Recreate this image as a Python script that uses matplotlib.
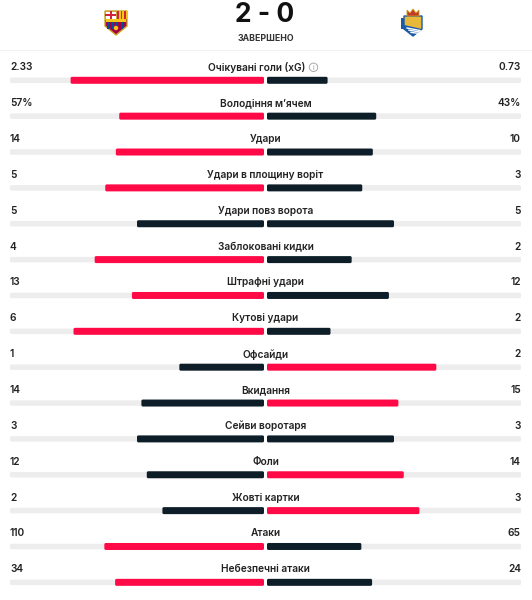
import numpy as np
import matplotlib.pyplot as plt
from matplotlib.patches import FancyBboxPatch, Polygon, Rectangle, Circle

labels = ['Очікувані голи (xG)', 'Володіння м’ячем', 'Удари', 'Удари в площину воріт',
          'Удари повз ворота', 'Заблоковані кидки', 'Штрафні удари', 'Кутові удари',
          'Офсайди', 'Вкидання', 'Сейви воротаря', 'Фоли', 'Жовті картки', 'Атаки',
          'Небезпечні атаки']
home = [2.33, 57, 14, 5, 5, 4, 13, 6, 1, 14, 3, 12, 2, 110, 34]
away = [0.73, 43, 10, 3, 5, 2, 12, 2, 2, 15, 3, 14, 3, 65, 24]
home_txt = ['2.33', '57%', '14', '5', '5', '4', '13', '6', '1', '14', '3', '12', '2', '110', '34']
away_txt = ['0.73', '43%', '10', '3', '5', '2', '12', '2', '2', '15', '3', '14', '3', '65', '24']
score = '2 - 0'
status = 'ЗАВЕРШЕНО'

RED, DARK, TRACK, TXT = '#ff0a47', '#0e1e28', '#ededed', '#222222'
plt.rcParams['font.family'] = ['Inter', 'DejaVu Sans']

fig = plt.figure(figsize=(5.32, 6.0), dpi=100)
ax = fig.add_axes([0, 0, 1, 1])
ax.set_xlim(0, 532); ax.set_ylim(600, 0); ax.axis('off')


def bar(x0, x1, y, h, color):
    if x1 - x0 <= 0:
        return
    ax.add_patch(FancyBboxPatch((x0, y - h / 2), x1 - x0, h,
                                boxstyle='round,pad=0,rounding_size=1.5',
                                fc=color, ec='none', mutation_aspect=1))


# header
ax.text(265, 15, score, ha='center', va='center', fontsize=19, fontweight='bold', color='#111111')
ax.text(266, 38.5, status, ha='center', va='center', fontsize=6.3, fontweight='bold', color='#333333')
ax.plot([0, 532], [50, 50], color='#f2f2f2', lw=0.8)

# barca crest (rough)
bx, by = 116, 22
ax.add_patch(Polygon([(bx - 11, by - 11), (bx + 11, by - 11), (bx + 11, by + 4),
                      (bx, by + 13), (bx - 11, by + 4)], fc='#a50044', ec='#c9a227', lw=1))
for k in range(4):
    ax.add_patch(Rectangle((bx - 9 + k * 4.5, by - 1), 2.3, 8, fc='#004d98', ec='none'))
ax.add_patch(Rectangle((bx - 11, by - 11), 11, 8, fc='white', ec='#c9a227', lw=0.6))
ax.add_patch(Rectangle((bx - 6.5, by - 11), 2, 8, fc='#d4213d', ec='none'))
ax.add_patch(Rectangle((bx - 11, by - 8), 11, 2, fc='#d4213d', ec='none'))
for k in range(3):
    ax.add_patch(Rectangle((bx + 1 + k * 3.5, by - 11), 1.8, 8, fc='#d4213d', ec='none'))
    ax.add_patch(Rectangle((bx + 2.8 + k * 3.5, by - 11), 1.7, 8, fc='#f5c518', ec='none'))
ax.add_patch(Rectangle((bx - 10, by - 3), 20, 2.5, fc='#f5c518', ec='none'))
ax.add_patch(Circle((bx, by + 6), 2.2, fc='#f5c518', ec='none'))

# real sociedad crest (rough)
rx, ry = 413, 23
ax.add_patch(Polygon([(rx - 9, ry - 7), (rx + 9, ry - 7), (rx + 9, ry + 6),
                      (rx, ry + 13), (rx - 9, ry + 6)], fc='#e8b83a', ec='#1a5aa8', lw=1))
ax.add_patch(Polygon([(rx - 9, ry + 2), (rx + 9, ry + 6), (rx, ry + 13), (rx - 9, ry + 6)],
                     fc='#1a5aa8', ec='none'))
for k in range(3):
    ax.plot([rx - 6 + k * 2, rx + 7], [ry + 5 + k * 2.2, ry + 7.5 + k * 1.5], color='white', lw=1)
ax.add_patch(Polygon([(rx - 6, ry - 7), (rx - 6, ry - 13), (rx - 3, ry - 10), (rx, ry - 14),
                      (rx + 3, ry - 10), (rx + 6, ry - 13), (rx + 6, ry - 7)],
                     fc='#c0392b', ec='#d4a017', lw=0.6))
ax.add_patch(Rectangle((rx - 12, ry - 5), 3, 11, fc='#1a5aa8', ec='none'))

# stat rows
c = 265.5
half = 254
top = 67.3
step = 35.86
for i, lab in enumerate(labels):
    yt = top + i * step
    yb = yt + 13
    ax.text(10, yt, home_txt[i], ha='left', va='center', fontsize=7.3, fontweight='semibold', color=TXT)
    ax.text(521, yt, away_txt[i], ha='right', va='center', fontsize=7.3, fontweight='semibold', color=TXT)
    if i == 0:
        ax.text(c - 9, yt, lab, ha='center', va='center', fontsize=7.3, fontweight='semibold', color=TXT)
        ax.add_patch(Circle((c + 48, yt), 4.2, fc='none', ec='#aaaaaa', lw=0.7))
        ax.text(c + 48, yt + 0.3, 'i', ha='center', va='center', fontsize=5, color='#999999')
    else:
        ax.text(c, yt, lab, ha='center', va='center', fontsize=7.3, fontweight='semibold', color=TXT)
    bar(10, c - 1.5, yb, 5.5, TRACK)
    bar(c + 1.5, 521, yb, 5.5, TRACK)
    tot = home[i] + away[i]
    fh, fa = home[i] / tot, away[i] / tot
    ch = RED if home[i] > away[i] else DARK
    ca = RED if away[i] > home[i] else DARK
    bar(c - 1.5 - fh * half, c - 1.5, yb, 7, ch)
    bar(c + 1.5, c + 1.5 + fa * half, yb, 7, ca)

fig.savefig('out.png', dpi=100)
